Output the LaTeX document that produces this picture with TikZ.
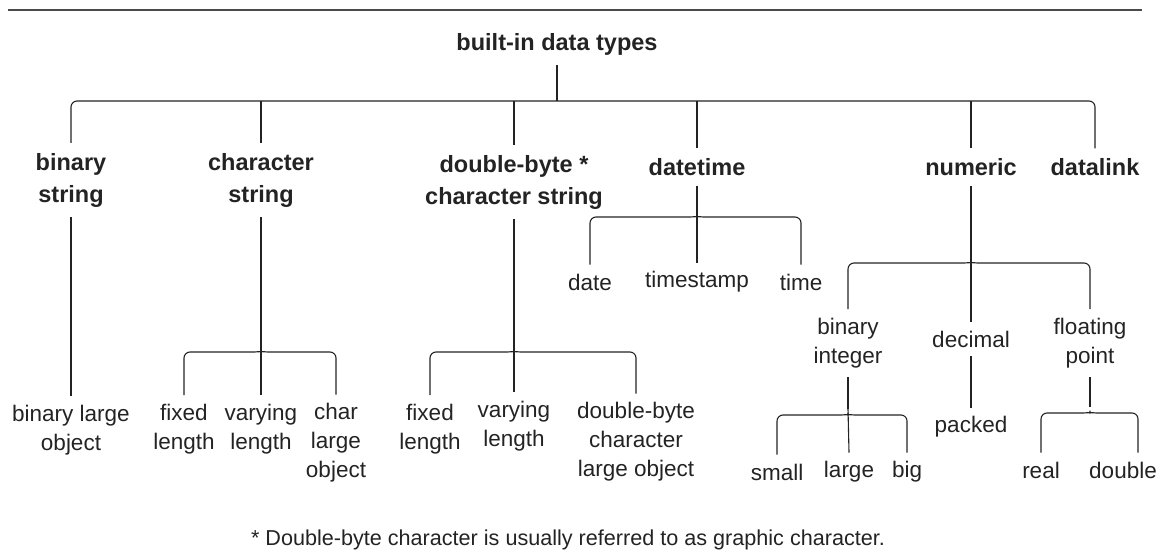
\documentclass[tikz,border=0pt]{standalone}
\usepackage{fontspec}
\setmainfont{Liberation Sans}
\definecolor{ink}{HTML}{232323}
\definecolor{rulegray}{HTML}{4A4A4A}
\newcommand\tipbrace[4]{%
  \draw[conn] (#2.north) |- ([xshift=-12pt]#1) to[out=0,in=270] ([yshift=6pt]#1)
    to[out=270,in=180] ([xshift=12pt]#1) -| (#3.north);
  \draw[conn] (#4.south) -- ([yshift=6pt]#1);}
\begin{document}
\begin{tikzpicture}[x=1pt,y=-1pt]
	\tikzset{conn/.style={draw=ink,line width=1.1pt,rounded corners=6pt},
		cat/.style={font=\fontsize{23.5}{32}\selectfont\bfseries,text=ink,align=center,inner sep=3pt,outer sep=7pt},
		leaf/.style={font=\fontsize{22.5}{29}\selectfont,text=ink,align=center,inner sep=3pt,outer sep=6pt}}
	\useasboundingbox (0,0) rectangle (1158,551);
	\draw[rulegray,line width=2.6pt] (8,10) -- (1142,10);
	\node[cat] (types) at (557,44) {built-in data types};
	\node[cat] (bin) at (71,180) {binary\\string};
	\node[cat] (chr) at (261,180) {character\\string};
	\node[cat] (dbc) at (514,182) {double-byte *\\character string};
	\node[cat] (dt) at (697,167) {datetime};
	\node[cat] (num) at (971,167) {numeric};
	\node[cat] (dl) at (1095,167) {datalink};
	\coordinate (topB) at (557,101);
	\draw[conn] (bin.north) |- (topB) -| (dl.north);
	\draw[conn] (types.south) -- (topB);
	\foreach \n in {chr,dbc,dt,num} \draw[conn] (\n.north) -- (\n.north |- topB);
	% binary string
	\node[leaf] (blob) at (71,430) {binary large\\object};
	\draw[conn] (bin.south) -- (blob.north);
	% character string
	\node[leaf] (cfix) at (184,429) {fixed\\length};
	\node[leaf] (cvar) at (261,429) {varying\\length};
	\node[leaf] (clob) at (336,443) {char\\large\\object};
	\coordinate (chrB) at (261,352);
	\tipbrace{chrB}{cfix}{clob}{chr}
	\draw[conn] ([yshift=6pt]chrB) -- (cvar.north);
	% double-byte
	\node[leaf] (dfix) at (430,429) {fixed\\length};
	\node[leaf] (dvar) at (514,426) {varying\\length};
	\node[leaf] (dblob) at (636,442) {double-byte\\character\\large object};
	\coordinate (dbcB) at (514,352);
	\tipbrace{dbcB}{dfix}{dblob}{dbc}
	\draw[conn] ([yshift=6pt]dbcB) -- (dvar.north);
	% datetime
	\node[leaf] (date) at (590,282) {date};
	\node[leaf] (tstamp) at (697,282) {timestamp};
	\node[leaf] (time) at (801,282) {time};
	\coordinate (dtB) at (697,217);
	\tipbrace{dtB}{date}{time}{dt}
	\draw[conn] ([yshift=6pt]dtB) -- (tstamp.north);
	% numeric
	\node[leaf] (bint) at (848,343) {binary\\integer};
	\node[leaf] (dec) at (971,339) {decimal};
	\node[leaf] (flt) at (1090,343) {floating\\point};
	\coordinate (numB) at (971,263);
	\tipbrace{numB}{bint}{flt}{num}
	\draw[conn] ([yshift=6pt]numB) -- (dec.north);
	\node[leaf] (small) at (777,472) {small};
	\node[leaf] (large) at (849,472) {large};
	\node[leaf] (big) at (907,472) {big};
	\coordinate (bintB) at (848,415);
	\tipbrace{bintB}{small}{big}{bint}
	\draw[conn] ([yshift=6pt]bintB) -- (large.north);
	\node[leaf] (packed) at (971,427) {packed};
	\draw[conn] (dec.south) -- (packed.north);
	\node[leaf] (real) at (1041,470) {real};
	\node[leaf] (dbl) at (1123,470) {double};
	\coordinate (fltB) at (1090,413);
	\draw[conn] (real.north) |- ([xshift=-12pt]fltB) to[out=0,in=270] ([yshift=6pt]fltB)
		to[out=270,in=180] ([xshift=12pt]fltB) -| ([xshift=15pt]dbl.north);
	\draw[conn] (flt.south) -- ([yshift=6pt]fltB);
	% footnote
	\node[leaf,font=\fontsize{21.6}{26}\selectfont] (note) at (568,540) {* Double-byte character is usually referred to as graphic character.};
\end{tikzpicture}
\end{document}
